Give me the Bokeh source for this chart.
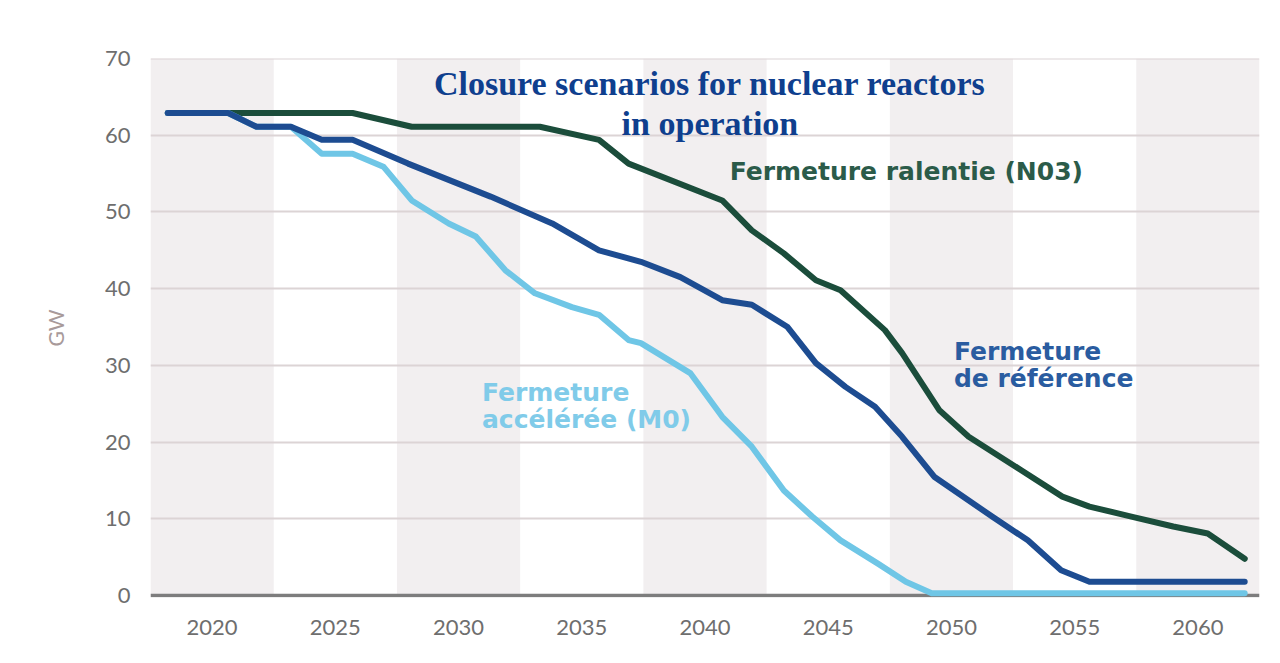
from bokeh.plotting import figure
from bokeh.models import Label, Range1d
from bokeh.embed import file_html
from bokeh.resources import INLINE

# ---- data ----
years_n03 = [2018.2, 2025.7, 2028.1, 2033.3, 2035.7, 2036.9, 2040.7, 2041.9, 2043.2,
             2044.5, 2045.5, 2047.3, 2048.0, 2049.5, 2050.7, 2052.8, 2054.5, 2055.6,
             2057.3, 2059.0, 2060.4, 2061.9]
gw_n03 = [62.9, 62.9, 61.1, 61.1, 59.4, 56.3, 51.5, 47.6, 44.6,
          41.1, 39.8, 34.6, 31.6, 24.2, 20.7, 16.4, 12.9, 11.6,
          10.3, 9.0, 8.1, 4.8]

years_ref = [2018.2, 2020.65, 2021.8, 2023.2, 2024.45, 2025.7, 2027.95, 2031.3, 2033.8,
             2035.7, 2037.4, 2039.0, 2040.7, 2041.9, 2043.35, 2044.5, 2045.7, 2046.9,
             2048.0, 2049.3, 2051.65, 2053.1, 2054.45, 2055.6, 2061.9]
gw_ref = [62.9, 62.9, 61.1, 61.1, 59.4, 59.4, 56.3, 52.0, 48.5,
          45.0, 43.5, 41.5, 38.5, 37.9, 35.0, 30.3, 27.2, 24.6,
          20.7, 15.5, 10.3, 7.2, 3.3, 1.8, 1.8]

years_m0 = [2018.2, 2020.65, 2021.8, 2023.2, 2024.45, 2025.7, 2026.95, 2028.1, 2029.6,
            2030.7, 2031.9, 2033.1, 2034.6, 2035.7, 2036.9, 2037.4, 2039.4, 2040.7,
            2041.9, 2043.2, 2044.35, 2045.5, 2047.0, 2048.15, 2049.2, 2061.9]
gw_m0 = [62.9, 62.9, 61.1, 61.1, 57.6, 57.6, 55.9, 51.5, 48.5,
         46.8, 42.4, 39.4, 37.6, 36.6, 33.3, 32.9, 29.0, 23.3,
         19.4, 13.7, 10.3, 7.2, 4.2, 1.8, 0.3, 0.3]

band_start = [2017.5, 2027.5, 2037.5, 2047.5, 2057.5]
band_end = [2022.5, 2032.5, 2042.5, 2052.5, 2062.5]
x_ticks = [2020, 2025, 2030, 2035, 2040, 2045, 2050, 2055, 2060]
y_ticks = [0, 10, 20, 30, 40, 50, 60, 70]

title_lines = ["Closure scenarios for nuclear reactors", "in operation"]
label_n03 = ["Fermeture ralentie (N03)"]
label_ref = ["Fermeture", "de référence"]
label_m0 = ["Fermeture", "accélérée (M0)"]

# ---- colours ----
C_N03 = "#1b4d3b"
C_REF = "#1d4c91"
C_M0 = "#6fc6e6"

p = figure(width=1264, height=647, output_backend="svg", toolbar_location=None,
           x_range=Range1d(2017.5, 2062.5), y_range=Range1d(-0.25, 70),
           min_border_left=150, min_border_right=5, min_border_top=58,
           min_border_bottom=50)
p.outline_line_color = None
p.background_fill_color = "white"
p.border_fill_color = "white"
p.xgrid.visible = False
p.ygrid.visible = False

# shaded bands
p.quad(left=band_start, right=band_end, bottom=y_ticks[0], top=y_ticks[-1],
       fill_color="#f2eff0", line_color=None)
# horizontal gridlines
p.hspan(y=y_ticks[1:], line_color="#dcd4d5", line_width=2)
# baseline
p.hspan(y=y_ticks[:1], line_color="#7d7d7d", line_width=3.5)

# series
for xs, ys, col in [(years_n03, gw_n03, C_N03), (years_m0, gw_m0, C_M0),
                    (years_ref, gw_ref, C_REF)]:
    p.line(xs, ys, line_color=col, line_width=6, line_join="round", line_cap="round")

# axes
for ax in (p.xaxis[0], p.yaxis[0]):
    ax.axis_line_color = None
    ax.major_tick_line_color = None
    ax.minor_tick_line_color = None
    ax.major_label_text_font = "Lato"
    ax.major_label_text_font_size = "22px"
    ax.major_label_text_color = "#6e6e6e"
p.xaxis.ticker = x_ticks
p.yaxis.ticker = y_ticks
p.xaxis.major_label_standoff = 16
p.yaxis.major_label_standoff = 14
p.yaxis.axis_label = "GW"
p.yaxis.axis_label_text_font = "Lato"
p.yaxis.axis_label_text_font_style = "normal"
p.yaxis.axis_label_text_font_size = "21px"
p.yaxis.axis_label_text_color = "#a89a9a"
p.yaxis.axis_label_standoff = 34

# title (inside plot)
for txt, yy in zip(title_lines, [66.8, 61.5]):
    p.add_layout(Label(x=2040.2, y=yy, text=txt, text_align="center",
                       text_baseline="alphabetic", text_font="Liberation Serif",
                       text_font_style="bold", text_font_size="34px",
                       text_color="#0f3f8e"))

def add_note(lines, x, ys, color):
    for txt, yy in zip(lines, ys):
        p.add_layout(Label(x=x, y=yy, text=txt, text_align="left",
                           text_baseline="middle", text_font="DejaVu Sans",
                           text_font_style="bold", text_font_size="25px",
                           text_color=color))

add_note(label_n03, 2041.0, [55.3], "#2b5b49")
add_note(label_ref, 2050.1, [31.8, 28.3], "#2a5ca0")
add_note(label_m0, 2030.95, [26.5, 23.0], "#80cbe9")

open("out.html", "w").write(file_html(p, INLINE))
